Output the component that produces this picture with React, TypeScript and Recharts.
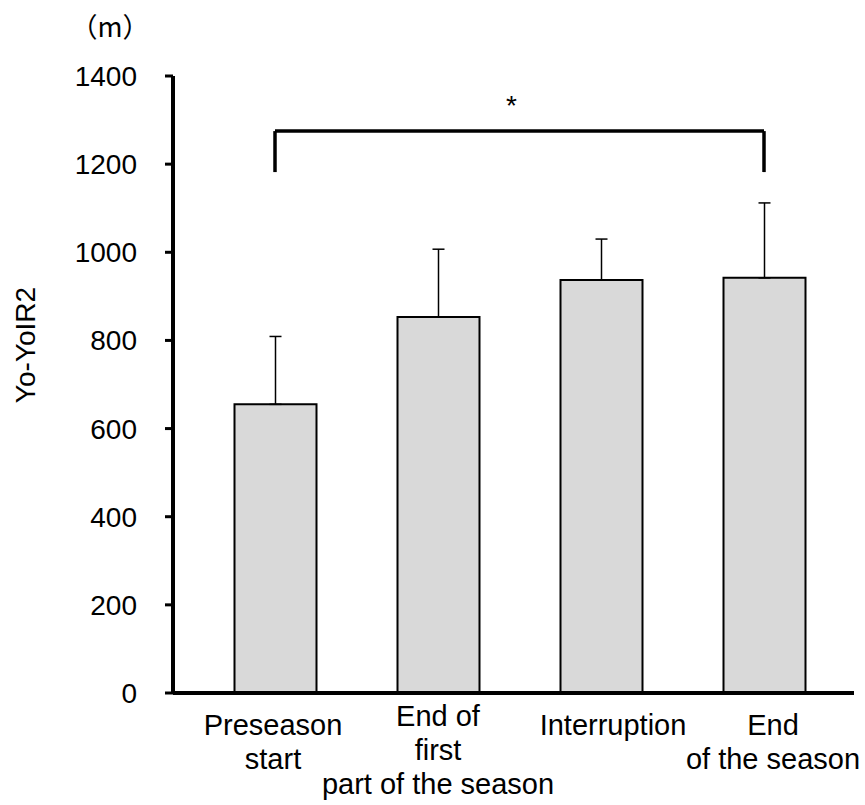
import React from 'react';
import { BarChart, Bar, XAxis, YAxis, ErrorBar, ReferenceLine } from 'recharts';

const categories = ['Preseason\nstart', 'End of\nfirst\npart of the season', 'Interruption', 'End\nof the season'];
const means = [655, 853, 937, 942];
const sds = [154, 154, 93, 170];
const yTicks = [0, 200, 400, 600, 800, 1000, 1200, 1400];

const bracketTop = 1275;
const bracketFoot = 1182;

const data = categories.map((name, i) => ({ name, value: means[i], err: [0, sds[i]] }));

const FONT = '"Liberation Sans", Arial, sans-serif';

// small nudges so the labels sit where they do in the original figure
const tickShift: Record<number, [number, number]> = { 0: [-2, 0], 1: [0, -9], 2: [12, 0], 3: [9, 0] };

const CategoryTick = (props: any) => {
  const { x, y, payload, index } = props;
  const lines = String(payload.value).split('\n');
  const [dx, dy] = tickShift[index] ?? [0, 0];
  return (
    <text x={x + dx} y={y + 42 + dy} textAnchor="middle" fontFamily={FONT} fontSize={29} fill="#000">
      {lines.map((l, i) => (
        <tspan key={i} x={x + dx} dy={i === 0 ? 0 : 34}>
          {l}
        </tspan>
      ))}
    </text>
  );
};

const AxisTitles = () => (
  <g>
    <text x={35} y={345} transform="rotate(-90 35 345)" textAnchor="middle" fontFamily={FONT} fontSize={28} fill="#000">
      Yo-YoIR2
    </text>
    <text x={110} y={37} textAnchor="middle" fontFamily='"Noto Sans CJK JP", sans-serif' fontSize={27} fill="#000">
      （m）
    </text>
  </g>
);

const Star = (props: any) => {
  const vb = props.viewBox || {};
  return (
    <text x={vb.x + (vb.width || 0) / 2 - 8} y={vb.y - 16} textAnchor="middle" fontFamily={FONT} fontSize={28} fill="#000">
      *
    </text>
  );
};

export default function App() {
  return (
    <div style={{ position: 'absolute', left: 0, top: 0, background: '#fff' }}>
      <BarChart width={865} height={805} data={data} margin={{ top: 76, right: 11, bottom: 0, left: 0 }}>
        <XAxis
          dataKey="name"
          height={112}
          interval={0}
          padding={{ left: 20.5, right: 8.5 }}
          axisLine={{ stroke: '#000', strokeWidth: 4 }}
          tickLine={false}
          tickSize={0}
          tickMargin={0}
          tick={<CategoryTick />}
        />
        <YAxis
          width={173}
          domain={[0, 1400]}
          ticks={yTicks}
          interval={0}
          axisLine={{ stroke: '#000', strokeWidth: 4 }}
          tickLine={{ stroke: '#000', strokeWidth: 3 }}
          tickSize={8}
          tickMargin={28}
          tick={{ fill: '#000', fontSize: 28, fontFamily: FONT }}
          label={{ content: () => <AxisTitles /> }}
        />
        <Bar dataKey="value" fill="#d9d9d9" stroke="#000" strokeWidth={2} barSize={82} isAnimationActive={false}>
          <ErrorBar dataKey="err" direction="y" width={6} stroke="#000" strokeWidth={1.5} isAnimationActive={false} />
        </Bar>
        <ReferenceLine
          segment={[{ x: categories[0], y: bracketTop }, { x: categories[3], y: bracketTop }]}
          stroke="#000"
          strokeWidth={3.5}
          label={<Star />}
        />
        <ReferenceLine
          segment={[{ x: categories[0], y: bracketTop }, { x: categories[0], y: bracketFoot }]}
          stroke="#000"
          strokeWidth={3.5}
        />
        <ReferenceLine
          segment={[{ x: categories[3], y: bracketTop }, { x: categories[3], y: bracketFoot }]}
          stroke="#000"
          strokeWidth={3.5}
        />
      </BarChart>
    </div>
  );
}
